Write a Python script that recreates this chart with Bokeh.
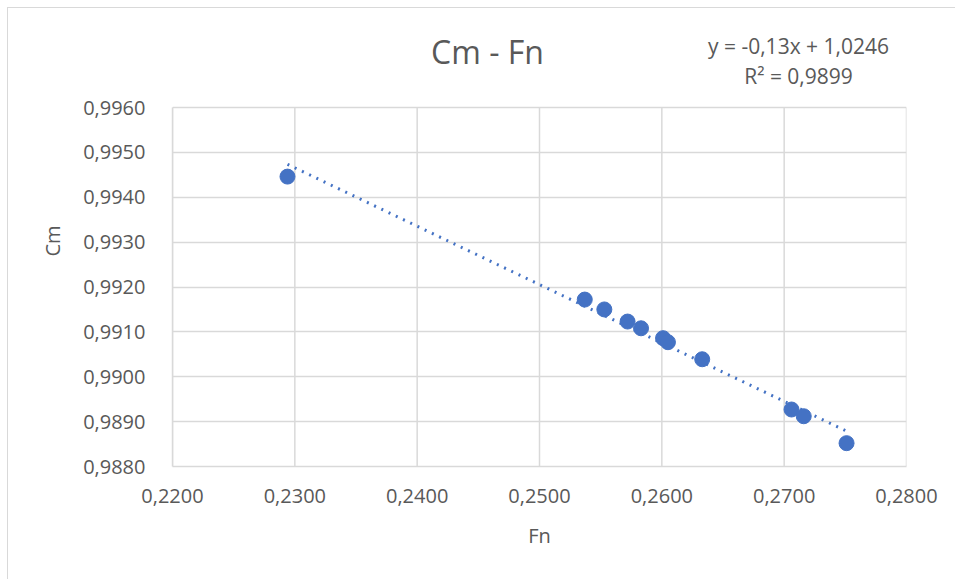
import numpy as np
from bokeh.plotting import figure
from bokeh.models import (ColumnDataSource, FixedTicker, CustomJSTickFormatter,
                          Range1d, Label)
from bokeh.embed import file_html
from bokeh.resources import INLINE

# data
fn = [0.2294, 0.2537, 0.2553, 0.2572, 0.2583, 0.2601, 0.2605, 0.2633, 0.2706, 0.2716, 0.2751]
cm = [0.99446, 0.99172, 0.99150, 0.99123, 0.99108, 0.99086, 0.99077, 0.99039, 0.98927, 0.98912, 0.98852]
x_ticks = [0.22, 0.23, 0.24, 0.25, 0.26, 0.27, 0.28]
y_ticks = [0.988, 0.989, 0.990, 0.991, 0.992, 0.993, 0.994, 0.995, 0.996]
title_text = "Cm - Fn"
eq_text = "y = -0,13x + 1,0246"
r2_text = "R² = 0,9899"

GRAY = "#595959"
GRID = "#d9d9d9"
BLUE = "#4472C4"
FONT = "Open Sans"

# layout: plot area 359 px tall; the frame is extended upward so that the
# title texts (drawn as labels) sit inside it and are not clipped
PLOT_H = 359
EXTRA_H = 92
y_lo, y_hi = y_ticks[0], y_ticks[-1]
y_top = y_hi + (y_hi - y_lo) * EXTRA_H / PLOT_H

p = figure(width=948, height=572, output_backend="svg", toolbar_location=None,
           x_range=Range1d(x_ticks[0], x_ticks[-1]), y_range=Range1d(y_lo, y_top),
           min_border_left=164, min_border_right=50, min_border_top=7,
           min_border_bottom=114)
p.margin = (7, 0, 0, 7)
p.styles = {"border-left": "1px solid #d9d9d9", "border-top": "1px solid #d9d9d9"}
p.outline_line_color = None
p.background_fill_color = "white"
p.border_fill_color = "white"

# vertical gridlines limited to the plot area
p.segment(x0=x_ticks, y0=[y_lo] * len(x_ticks), x1=x_ticks, y1=[y_hi] * len(x_ticks),
          line_color=GRID, line_width=1.5)

# trendline (linear least squares over the data)
k, b = np.polyfit(fn, cm, 1)
tx = [min(fn), max(fn)]
ty = [k * v + b for v in tx]
p.line(tx, ty, line_color=BLUE, line_width=3, line_dash="2 6")

src = ColumnDataSource(dict(x=fn, y=cm))
p.scatter("x", "y", source=src, size=15, fill_color=BLUE, line_color=BLUE)

for ax in (p.xaxis, p.yaxis):
    ax.axis_line_color = GRID
    ax.axis_line_width = 1.5
    ax.major_tick_line_color = None
    ax.minor_tick_line_color = None
    ax.major_label_text_font = FONT
    ax.major_label_text_font_size = "20px"
    ax.major_label_text_color = GRAY
    ax.axis_label_text_font = FONT
    ax.axis_label_text_font_size = "20px"
    ax.axis_label_text_color = GRAY
    ax.axis_label_text_font_style = "normal"

p.yaxis.bounds = (y_lo, y_hi)
p.xaxis.ticker = FixedTicker(ticks=x_ticks)
p.yaxis.ticker = FixedTicker(ticks=y_ticks)
p.xaxis.formatter = CustomJSTickFormatter(code="return tick.toFixed(4).replace('.', ',');")
p.yaxis.formatter = CustomJSTickFormatter(code="return tick.toFixed(4).replace('.', ',');")
p.xaxis.axis_label = "Fn"
p.yaxis.axis_label = "Cm"
p.xaxis.major_label_standoff = 16
p.yaxis.major_label_standoff = 21
p.xaxis.axis_label_standoff = 16
p.yaxis.axis_label_standoff = 14

p.xgrid.grid_line_color = None
p.ygrid.ticker = FixedTicker(ticks=y_ticks)
p.ygrid.grid_line_color = GRID
p.ygrid.grid_line_width = 1.5

# texts above the plot area (screen units: pixels from the frame's bottom-left)
p.add_layout(Label(x=315, y=415, x_units="screen", y_units="screen",
                   text=title_text, text_font=FONT, text_font_size="32px",
                   text_color=GRAY, text_align="center", text_baseline="middle"))
p.add_layout(Label(x=626, y=421, x_units="screen", y_units="screen",
                   text=eq_text, text_font=FONT, text_font_size="21px",
                   text_color=GRAY, text_align="center", text_baseline="middle"))
p.add_layout(Label(x=626, y=391, x_units="screen", y_units="screen",
                   text=r2_text, text_font=FONT, text_font_size="21px",
                   text_color=GRAY, text_align="center", text_baseline="middle"))

open("out.html", "w").write(file_html(p, INLINE))
